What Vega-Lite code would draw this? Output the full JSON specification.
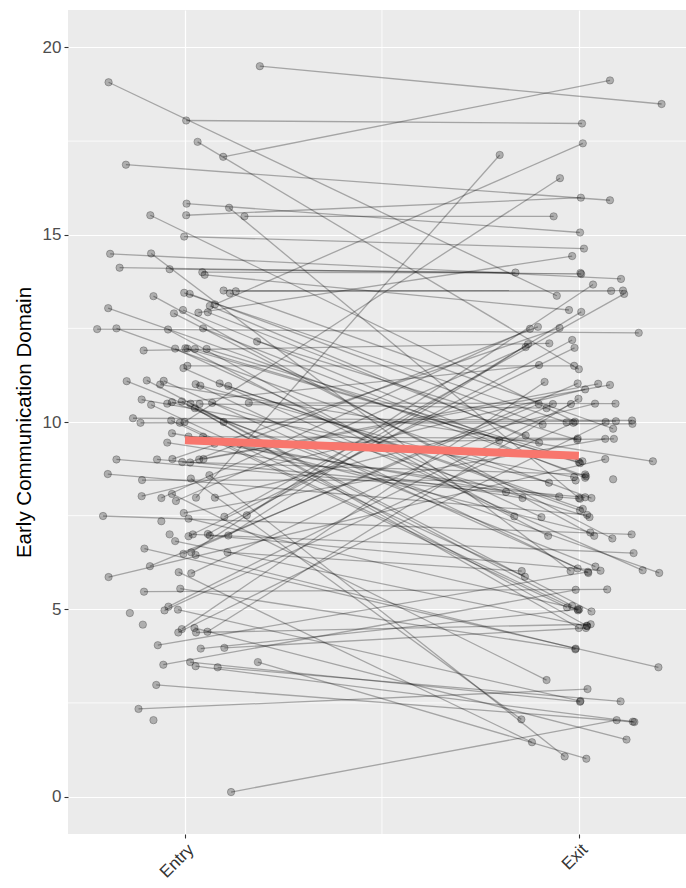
{
  "$schema": "https://vega.github.io/schema/vega-lite/v6.json",
  "autosize": {"type": "none"},
  "padding": {"left": 68, "top": 10, "right": 0, "bottom": 54},
  "width": 618,
  "height": 824,
  "background": "white",
  "config": {
    "view": {"fill": "#EBEBEB", "stroke": null},
    "axis": {
      "gridColor": "white", "gridWidth": 1.2, "domain": false,
      "tickColor": "#333333", "tickSize": 4, "tickWidth": 1.1,
      "labelColor": "#4D4D4D", "labelFont": "Liberation Sans", "labelFontSize": 17,
      "titleFont": "Liberation Sans", "titleFontSize": 20.5, "titleFontWeight": "normal", "titleColor": "black"
    }
  },
  "datasets": {
    "minorY": [{"y": 2.5}, {"y": 7.5}, {"y": 12.5}, {"y": 17.5}],
    "minorX": [{"x": 1.5}],
    "mean": [{"x": 1, "y": 9.51}, {"x": 2, "y": 9.1}],
    "pts": [
      {"id":1,"x":1.190,"y":19.50},{"id":2,"x":0.806,"y":19.07},{"id":3,"x":1.003,"y":18.05},{"id":4,"x":1.032,"y":17.48},
      {"id":5,"x":1.097,"y":17.08},{"id":6,"x":0.850,"y":16.87},{"id":7,"x":1.004,"y":15.83},{"id":8,"x":1.112,"y":15.72},
      {"id":9,"x":1.151,"y":15.49},{"id":10,"x":0.912,"y":15.52},{"id":11,"x":1.003,"y":15.52},{"id":12,"x":0.998,"y":14.95},
      {"id":13,"x":0.810,"y":14.49},{"id":14,"x":0.914,"y":14.50},{"id":15,"x":0.834,"y":14.12},{"id":16,"x":0.961,"y":14.08},
      {"id":17,"x":1.044,"y":14.00},{"id":18,"x":1.050,"y":13.93},{"id":19,"x":0.998,"y":13.45},{"id":20,"x":1.012,"y":13.42},
      {"id":21,"x":1.098,"y":13.51},{"id":22,"x":1.114,"y":13.44},{"id":23,"x":1.129,"y":13.49},{"id":24,"x":0.920,"y":13.36},
      {"id":25,"x":0.805,"y":13.04},{"id":26,"x":0.972,"y":12.90},{"id":27,"x":0.995,"y":12.99},{"id":28,"x":1.034,"y":12.92},
      {"id":29,"x":1.058,"y":12.93},{"id":30,"x":1.063,"y":13.10},{"id":31,"x":1.076,"y":13.14},{"id":32,"x":0.777,"y":12.48},
      {"id":33,"x":0.826,"y":12.50},{"id":34,"x":0.957,"y":12.47},{"id":35,"x":1.046,"y":12.50},{"id":36,"x":1.183,"y":12.15},
      {"id":37,"x":0.895,"y":11.91},{"id":38,"x":0.975,"y":11.96},{"id":39,"x":1.001,"y":11.97},{"id":40,"x":1.006,"y":11.96},
      {"id":41,"x":1.025,"y":11.95},{"id":42,"x":1.055,"y":11.95},{"id":43,"x":0.996,"y":11.44},{"id":44,"x":1.006,"y":11.50},
      {"id":45,"x":0.852,"y":11.09},{"id":46,"x":0.903,"y":11.11},{"id":47,"x":0.946,"y":11.10},{"id":48,"x":0.937,"y":11.00},
      {"id":49,"x":1.027,"y":11.01},{"id":50,"x":1.039,"y":10.97},{"id":51,"x":1.088,"y":11.03},{"id":52,"x":1.110,"y":10.96},
      {"id":53,"x":0.890,"y":10.60},{"id":54,"x":0.914,"y":10.46},{"id":55,"x":0.955,"y":10.49},{"id":56,"x":0.967,"y":10.53},
      {"id":57,"x":0.992,"y":10.55},{"id":58,"x":1.014,"y":10.49},{"id":59,"x":1.025,"y":10.37},{"id":60,"x":1.037,"y":10.48},
      {"id":61,"x":1.069,"y":10.51},{"id":62,"x":1.162,"y":10.51},{"id":63,"x":0.868,"y":10.10},{"id":64,"x":0.887,"y":9.98},
      {"id":65,"x":0.965,"y":10.04},{"id":66,"x":0.987,"y":9.98},{"id":67,"x":0.999,"y":10.00},{"id":68,"x":1.098,"y":10.00},
      {"id":69,"x":0.967,"y":9.70},{"id":70,"x":0.955,"y":9.45},{"id":71,"x":1.009,"y":9.61},{"id":72,"x":1.046,"y":9.61},
      {"id":73,"x":1.075,"y":9.42},{"id":74,"x":1.139,"y":9.42},{"id":75,"x":0.826,"y":9.00},{"id":76,"x":0.929,"y":9.00},
      {"id":77,"x":0.968,"y":9.01},{"id":78,"x":0.993,"y":8.93},{"id":79,"x":1.013,"y":8.92},{"id":80,"x":1.036,"y":9.00},
      {"id":81,"x":1.047,"y":9.01},{"id":82,"x":0.804,"y":8.61},{"id":83,"x":0.891,"y":8.45},{"id":84,"x":1.015,"y":8.49},
      {"id":85,"x":1.062,"y":8.58},{"id":86,"x":0.890,"y":8.02},{"id":87,"x":0.940,"y":7.97},{"id":88,"x":0.967,"y":8.08},
      {"id":89,"x":0.977,"y":7.89},{"id":90,"x":1.028,"y":7.98},{"id":91,"x":1.076,"y":7.98},{"id":92,"x":0.792,"y":7.49},
      {"id":93,"x":0.997,"y":7.57},{"id":94,"x":1.009,"y":7.42},{"id":95,"x":1.100,"y":7.47},{"id":96,"x":1.157,"y":7.51},
      {"id":97,"x":0.940,"y":7.35},{"id":98,"x":0.961,"y":7.00},{"id":99,"x":0.975,"y":6.82},{"id":100,"x":1.009,"y":6.95},
      {"id":101,"x":1.020,"y":7.00},{"id":102,"x":1.058,"y":7.01},{"id":103,"x":1.063,"y":6.97},{"id":104,"x":1.110,"y":6.97},
      {"id":105,"x":0.897,"y":6.62},{"id":106,"x":0.996,"y":6.48},{"id":107,"x":1.016,"y":6.52},{"id":108,"x":1.027,"y":6.45},
      {"id":109,"x":1.108,"y":6.52},{"id":110,"x":0.911,"y":6.15},{"id":111,"x":0.806,"y":5.86},{"id":112,"x":0.984,"y":5.99},
      {"id":113,"x":1.016,"y":5.96},{"id":114,"x":0.896,"y":5.47},{"id":115,"x":0.988,"y":5.55},{"id":116,"x":0.860,"y":4.90},
      {"id":117,"x":0.948,"y":4.97},{"id":118,"x":0.958,"y":5.07},{"id":119,"x":0.982,"y":4.99},{"id":120,"x":0.893,"y":4.59},
      {"id":121,"x":0.983,"y":4.38},{"id":122,"x":0.992,"y":4.47},{"id":123,"x":1.024,"y":4.50},{"id":124,"x":1.028,"y":4.38},
      {"id":125,"x":1.057,"y":4.40},{"id":126,"x":0.931,"y":4.04},{"id":127,"x":1.040,"y":3.95},{"id":128,"x":1.100,"y":3.97},
      {"id":129,"x":0.945,"y":3.52},{"id":130,"x":1.013,"y":3.59},{"id":131,"x":1.027,"y":3.48},{"id":132,"x":1.083,"y":3.45},
      {"id":133,"x":1.185,"y":3.59},{"id":134,"x":0.927,"y":2.98},{"id":135,"x":0.882,"y":2.34},{"id":136,"x":0.920,"y":2.04},
      {"id":137,"x":1.117,"y":0.12},

      {"id":1,"x":2.210,"y":18.49},{"id":2,"x":1.944,"y":13.37},{"id":3,"x":2.008,"y":17.97},{"id":4,"x":2.000,"y":11.41},
      {"id":5,"x":2.079,"y":19.12},{"id":6,"x":2.079,"y":15.92},{"id":7,"x":2.003,"y":15.06},{"id":8,"x":2.000,"y":7.97},
      {"id":9,"x":1.936,"y":15.49},{"id":10,"x":1.990,"y":10.01},{"id":11,"x":2.005,"y":15.99},{"id":12,"x":2.013,"y":14.63},
      {"id":13,"x":2.107,"y":13.82},{"id":14,"x":1.979,"y":6.02},{"id":15,"x":2.006,"y":13.95},{"id":16,"x":1.839,"y":13.99},
      {"id":17,"x":2.004,"y":13.98},{"id":18,"x":1.975,"y":12.99},{"id":19,"x":1.969,"y":9.99},{"id":20,"x":1.908,"y":9.93},
      {"id":21,"x":2.082,"y":13.50},{"id":22,"x":2.087,"y":9.82},{"id":23,"x":2.112,"y":13.51},{"id":24,"x":2.039,"y":6.96},
      {"id":25,"x":2.018,"y":8.55},{"id":26,"x":2.085,"y":6.89},{"id":27,"x":1.798,"y":9.51},{"id":28,"x":1.983,"y":14.43},
      {"id":29,"x":1.865,"y":9.64},{"id":30,"x":1.899,"y":9.45},{"id":31,"x":2.010,"y":17.44},{"id":32,"x":2.152,"y":12.38},
      {"id":33,"x":2.032,"y":7.97},{"id":34,"x":1.836,"y":7.48},{"id":35,"x":2.016,"y":8.51},{"id":36,"x":1.996,"y":9.52},
      {"id":37,"x":1.925,"y":12.10},{"id":38,"x":1.905,"y":7.46},{"id":39,"x":2.000,"y":8.93},{"id":40,"x":1.922,"y":6.96},
      {"id":41,"x":2.003,"y":8.90},{"id":42,"x":2.009,"y":8.95},{"id":43,"x":2.162,"y":6.04},{"id":44,"x":1.988,"y":11.50},
      {"id":45,"x":2.042,"y":6.14},{"id":46,"x":2.032,"y":4.94},{"id":47,"x":2.024,"y":5.97},{"id":48,"x":2.188,"y":8.95},
      {"id":49,"x":1.997,"y":6.09},{"id":50,"x":1.924,"y":8.38},{"id":51,"x":2.010,"y":7.68},{"id":52,"x":2.003,"y":7.64},
      {"id":53,"x":1.988,"y":8.53},{"id":54,"x":1.863,"y":5.87},{"id":55,"x":1.899,"y":11.52},{"id":56,"x":2.204,"y":5.97},
      {"id":57,"x":2.020,"y":4.56},{"id":58,"x":1.983,"y":5.09},{"id":59,"x":2.000,"y":4.50},{"id":60,"x":1.918,"y":10.37},
      {"id":61,"x":2.027,"y":7.46},{"id":62,"x":2.093,"y":10.49},{"id":63,"x":2.135,"y":10.04},{"id":64,"x":2.094,"y":10.02},
      {"id":65,"x":1.970,"y":5.05},{"id":66,"x":1.998,"y":4.97},{"id":67,"x":1.952,"y":16.51},{"id":68,"x":2.136,"y":9.95},
      {"id":69,"x":1.815,"y":8.13},{"id":70,"x":1.857,"y":7.97},{"id":71,"x":1.997,"y":9.56},{"id":72,"x":2.029,"y":7.05},
      {"id":73,"x":1.950,"y":8.01},{"id":74,"x":2.089,"y":9.55},{"id":75,"x":2.003,"y":7.95},{"id":76,"x":2.016,"y":7.99},
      {"id":77,"x":1.951,"y":12.51},{"id":78,"x":2.016,"y":8.60},{"id":79,"x":1.896,"y":12.54},{"id":80,"x":2.049,"y":11.02},
      {"id":81,"x":2.079,"y":10.99},{"id":82,"x":2.021,"y":7.52},{"id":83,"x":1.992,"y":8.44},{"id":84,"x":1.854,"y":2.06},
      {"id":85,"x":1.964,"y":1.07},{"id":86,"x":2.016,"y":10.87},{"id":87,"x":1.876,"y":12.49},{"id":88,"x":1.918,"y":3.11},
      {"id":89,"x":1.865,"y":12.00},{"id":90,"x":1.799,"y":17.13},{"id":91,"x":2.041,"y":10.49},{"id":92,"x":2.134,"y":7.00},
      {"id":93,"x":2.067,"y":9.55},{"id":94,"x":2.001,"y":5.00},{"id":95,"x":2.115,"y":13.42},{"id":96,"x":2.006,"y":12.94},
      {"id":99,"x":2.021,"y":4.55},{"id":100,"x":1.989,"y":11.98},{"id":101,"x":2.139,"y":6.50},{"id":102,"x":1.983,"y":12.19},
      {"id":103,"x":2.055,"y":6.03},{"id":104,"x":1.871,"y":12.08},{"id":105,"x":2.202,"y":3.45},{"id":106,"x":1.997,"y":11.03},
      {"id":107,"x":2.036,"y":13.67},{"id":108,"x":1.992,"y":3.95},{"id":109,"x":1.855,"y":6.02},{"id":110,"x":1.898,"y":10.48},
      {"id":111,"x":2.067,"y":9.01},{"id":112,"x":1.881,"y":1.45},{"id":113,"x":1.934,"y":10.48},{"id":114,"x":2.072,"y":5.53},
      {"id":115,"x":1.991,"y":3.93},{"id":117,"x":1.986,"y":9.98},{"id":118,"x":1.980,"y":10.48},{"id":119,"x":2.004,"y":2.55},
      {"id":121,"x":2.068,"y":10.00},{"id":122,"x":1.913,"y":11.07},{"id":123,"x":2.121,"y":1.52},{"id":124,"x":2.030,"y":4.60},
      {"id":125,"x":1.999,"y":10.62},{"id":126,"x":2.023,"y":6.00},{"id":127,"x":1.997,"y":5.00},{"id":128,"x":2.018,"y":4.50},
      {"id":129,"x":1.992,"y":5.52},{"id":130,"x":2.003,"y":2.53},{"id":131,"x":2.137,"y":2.00},{"id":132,"x":2.106,"y":2.54},
      {"id":133,"x":2.019,"y":1.01},{"id":134,"x":2.141,"y":1.99},{"id":135,"x":2.022,"y":2.87},{"id":137,"x":2.096,"y":2.04},
      {"id":200,"x":2.087,"y":8.47}
    ]
  },
  "layer": [
    {
      "data": {"name": "minorX"},
      "mark": {"type": "rule", "color": "white", "strokeWidth": 0.8},
      "encoding": {
        "x": {"field": "x", "type": "quantitative", "scale": {"domain": [0.703, 2.272], "nice": false, "zero": false},
              "axis": {"values": [1, 2], "title": null, "labelExpr": "datum.value == 1 ? 'Entry' : 'Exit'", "labelAngle": -45, "labelAlign": "right", "labelBaseline": "top", "labelPadding": 3, "labelColor": "#333333"}}
      }
    },
    {
      "data": {"name": "minorY"},
      "mark": {"type": "rule", "color": "white", "strokeWidth": 0.8},
      "encoding": {
        "y": {"field": "y", "type": "quantitative", "scale": {"domain": [-1, 21], "nice": false, "zero": false},
              "axis": {"values": [0, 5, 10, 15, 20], "title": "Early Communication Domain", "labelPadding": 3, "titlePadding": 8}},
        "x": {"datum": 0.703, "type": "quantitative"},
        "x2": {"datum": 2.272}
      }
    },
    {
      "data": {"name": "pts"},
      "mark": {"type": "line", "color": "black", "opacity": 0.3, "strokeWidth": 1.3},
      "encoding": {
        "x": {"field": "x", "type": "quantitative"},
        "y": {"field": "y", "type": "quantitative"},
        "detail": {"field": "id", "type": "nominal"},
        "order": {"field": "x", "type": "quantitative"}
      }
    },
    {
      "data": {"name": "pts"},
      "mark": {"type": "circle", "size": 55, "fill": "black", "fillOpacity": 0.26, "stroke": "black", "strokeOpacity": 0.3, "strokeWidth": 0.8},
      "encoding": {
        "x": {"field": "x", "type": "quantitative"},
        "y": {"field": "y", "type": "quantitative"}
      }
    },
    {
      "data": {"name": "mean"},
      "mark": {"type": "line", "color": "#F8766D", "strokeWidth": 8, "strokeCap": "butt"},
      "encoding": {
        "x": {"field": "x", "type": "quantitative"},
        "y": {"field": "y", "type": "quantitative"}
      }
    }
  ]
}
